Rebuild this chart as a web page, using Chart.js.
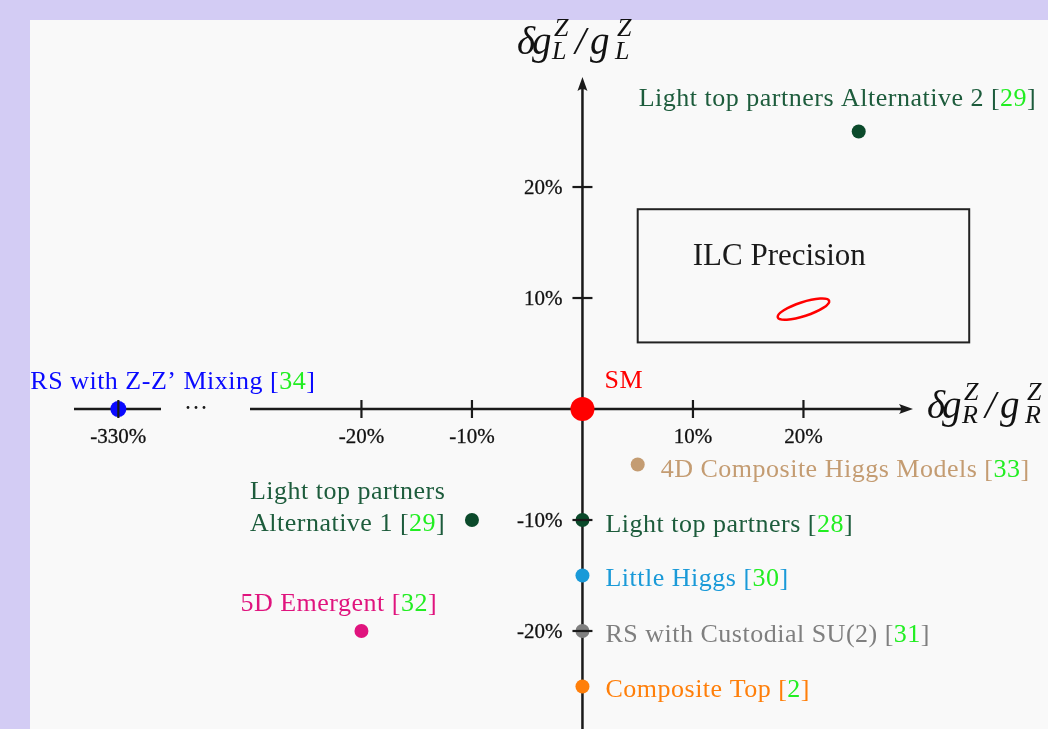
<!DOCTYPE html>
<html><head><meta charset="utf-8">
<script src="https://cdn.jsdelivr.net/npm/chart.js@4/dist/chart.umd.min.js"></script>
<style>html,body{margin:0;padding:0;background:#d3ccf4;overflow:hidden}#wrap{width:1048px;height:729px;position:relative}</style>
</head><body><div id="wrap"><canvas id="c"></canvas></div>
<script>
// ---- data ----
const models = ['SM', 'Light top partners Alternative 2', '4D Composite Higgs Models', ['Light top partners', 'Alternative 1'], 'Light top partners', 'Little Higgs', 'RS with Custodial SU(2)', 'Composite Top', '5D Emergent', 'RS with Z-Z\u2019 Mixing'];
const refs = ['', '29', '33', '29', '28', '30', '31', '2', '32', '34'];
const deltaGR = [0, 25, 5, -10, 0, 0, 0, 0, -20, -330];   // % shift of g_R^Z
const deltaGL = [0, 25, -5, -10, -10, -15, -20, -25, -20, 0]; // % shift of g_L^Z
const xTickValues = [-330, -20, -10, 10, 20];
const yTickValues = [-20, -10, 10, 20];
const ilcBoxX = [5, 35];
const ilcBoxY = [6, 18];
const ilcEllipseCenter = [20, 9];

// ---- styles ----
const colors = ['#ff0000', '#0b4a2b', '#c49c72', '#0b4a2b', '#0b4a2b', '#1a9ad8', '#7f7f7f', '#ff7f0a', '#e0147e', '#0a0aff'];
const textColors = ['#ff0000', '#1d5c3c', '#c49c72', '#1d5c3c', '#1d5c3c', '#1a9ad8', '#7f7f7f', '#ff7f0a', '#e0147e', '#0a0aff'];
const radii = [12, 7, 7, 7, 7, 7, 7, 7, 7, 8];
const labelOffsets = [[22, -30], [-220, -35], [23, 3], [-222, -30], [23, 3], [23, 2], [23, 2], [23, 2], [-121, -29], [-88, -29]];
const REF_GREEN = '#22ee22';
const SERIF = '"Liberation Serif", "DejaVu Serif", serif';

// broken axis: values beyond the break are drawn at a compressed position
const BREAK_LIMIT = -40, BREAK_POS = -42;
function axisX(v) { return v < BREAK_LIMIT ? BREAK_POS + (v + 330) * 0.01 : v; }

const points = deltaGR.map((v, i) => ({ x: axisX(v), y: deltaGL[i] }));

function drawCoupling(ctx, x, base, sub) {
  const big = 'italic 39px ' + SERIF, small = 'italic 26px ' + SERIF;
  ctx.fillStyle = '#111'; ctx.textAlign = 'left'; ctx.textBaseline = 'alphabetic';
  ctx.font = big;
  ctx.fillText('\u03b4', x, base);
  ctx.fillText('g', x + 15, base);
  ctx.fillText('/', x + 58, base);
  ctx.fillText('g', x + 73, base);
  ctx.font = small;
  [37, 100].forEach(o => { ctx.fillText('Z', x + o, base - 18); ctx.fillText(sub, x + o - 2, base + 5); });
}

const diagram = {
  id: 'diagram',
  beforeDraw(chart) {
    const ctx = chart.ctx, xs = chart.scales.x, ys = chart.scales.y;
    ctx.save();
    ctx.fillStyle = '#d3ccf4'; ctx.fillRect(0, 0, chart.width, chart.height);
    ctx.fillStyle = '#f9f9f9'; ctx.fillRect(30, 20, chart.width - 30, chart.height - 20);
    // ILC box
    const bx0 = xs.getPixelForValue(ilcBoxX[0]), bx1 = xs.getPixelForValue(ilcBoxX[1]);
    const by0 = ys.getPixelForValue(ilcBoxY[1]), by1 = ys.getPixelForValue(ilcBoxY[0]);
    ctx.strokeStyle = '#222'; ctx.lineWidth = 2;
    ctx.strokeRect(bx0, by0, bx1 - bx0, by1 - by0);
    ctx.fillStyle = '#1a1a1a'; ctx.font = '31px ' + SERIF; ctx.textBaseline = 'alphabetic'; ctx.textAlign = 'left';
    ctx.fillText('ILC Precision', bx0 + 55, by0 + 56);
    ctx.beginPath();
    ctx.ellipse(xs.getPixelForValue(ilcEllipseCenter[0]), ys.getPixelForValue(ilcEllipseCenter[1]), 27, 7, -18 * Math.PI / 180, 0, Math.PI * 2);
    ctx.strokeStyle = '#ff0000'; ctx.lineWidth = 2.5; ctx.stroke();
    // axes
    const x0 = xs.getPixelForValue(0), y0 = ys.getPixelForValue(0);
    ctx.strokeStyle = '#1a1a1a'; ctx.lineWidth = 2.5;
    ctx.beginPath();
    ctx.moveTo(x0, chart.height); ctx.lineTo(x0, 86);
    ctx.moveTo(250, y0); ctx.lineTo(904, y0);
    ctx.moveTo(74, y0); ctx.lineTo(161, y0);
    ctx.stroke();
    ctx.fillStyle = '#1a1a1a';
    ctx.beginPath(); ctx.moveTo(x0, 77); ctx.lineTo(x0 - 5, 91); ctx.quadraticCurveTo(x0, 87, x0 + 5, 91); ctx.closePath(); ctx.fill();
    ctx.beginPath(); ctx.moveTo(913, y0); ctx.lineTo(899, y0 - 5); ctx.quadraticCurveTo(903, y0, 899, y0 + 5); ctx.closePath(); ctx.fill();
    // break dots
    [188, 196, 204].forEach(px => { ctx.beginPath(); ctx.arc(px, y0 - 1.5, 1.4, 0, Math.PI * 2); ctx.fill(); });
    // axis titles
    drawCoupling(ctx, 517, 54, 'L');
    drawCoupling(ctx, 927, 418, 'R');
    ctx.restore();
  },
  afterDatasetsDraw(chart) {
    const ctx = chart.ctx, xs = chart.scales.x, ys = chart.scales.y;
    const x0 = xs.getPixelForValue(0), y0 = ys.getPixelForValue(0);
    ctx.save();
    ctx.strokeStyle = '#1a1a1a'; ctx.lineWidth = 2.2; ctx.fillStyle = '#111';
    ctx.font = '21px ' + SERIF; ctx.textBaseline = 'alphabetic';
    const tickText = (t, x, y) => { ctx.lineWidth = 0.3; ctx.strokeText(t, x, y); ctx.fillText(t, x, y); ctx.lineWidth = 2.2; };
    xTickValues.forEach(v => {
      const px = xs.getPixelForValue(axisX(v));
      ctx.beginPath(); ctx.moveTo(px, y0 - 9); ctx.lineTo(px, y0 + 9); ctx.stroke();
      ctx.textAlign = 'center'; tickText(v + '%', px, y0 + 34);
    });
    yTickValues.forEach(v => {
      const py = ys.getPixelForValue(v);
      ctx.beginPath(); ctx.moveTo(x0 - 10, py); ctx.lineTo(x0 + 10, py); ctx.stroke();
      ctx.textAlign = 'right'; tickText(v + '%', x0 - 20, py + 7);
    });
    // model labels
    ctx.font = '26px ' + SERIF; ctx.textAlign = 'left';
    ctx.letterSpacing = '0.5px';
    points.forEach((p, i) => {
      const px = xs.getPixelForValue(p.x), py = ys.getPixelForValue(p.y);
      const lines = Array.isArray(models[i]) ? models[i] : [models[i]];
      let lx = px + labelOffsets[i][0], ly = py + labelOffsets[i][1] + 9;
      lines.forEach((ln, k) => {
        let x = lx;
        const last = k === lines.length - 1;
        const segs = [[ln + (last && refs[i] ? ' [' : ''), textColors[i]]];
        if (last && refs[i]) { segs.push([refs[i], REF_GREEN]); segs.push([']', textColors[i]]); }
        segs.forEach(([t, c]) => { ctx.fillStyle = c; ctx.fillText(t, x, ly); x += ctx.measureText(t).width; });
        ly += 32;
      });
    });
    ctx.restore();
  }
};

new Chart(document.getElementById('c'), {
  type: 'scatter',
  data: { datasets: [{ data: points, backgroundColor: colors, pointRadius: radii, pointHoverRadius: radii, pointBorderWidth: 0, borderWidth: 0 }] },
  options: {
    responsive: true, maintainAspectRatio: false, animation: false, devicePixelRatio: 1,
    layout: { padding: 0, autoPadding: false },
    plugins: { legend: { display: false }, tooltip: { enabled: false } },
    scales: {
      x: { type: 'linear', min: -52.71, max: 42.13, display: false },
      y: { type: 'linear', min: -28.83, max: 36.85, display: false }
    }
  },
  plugins: [diagram]
});
</script></body></html>
